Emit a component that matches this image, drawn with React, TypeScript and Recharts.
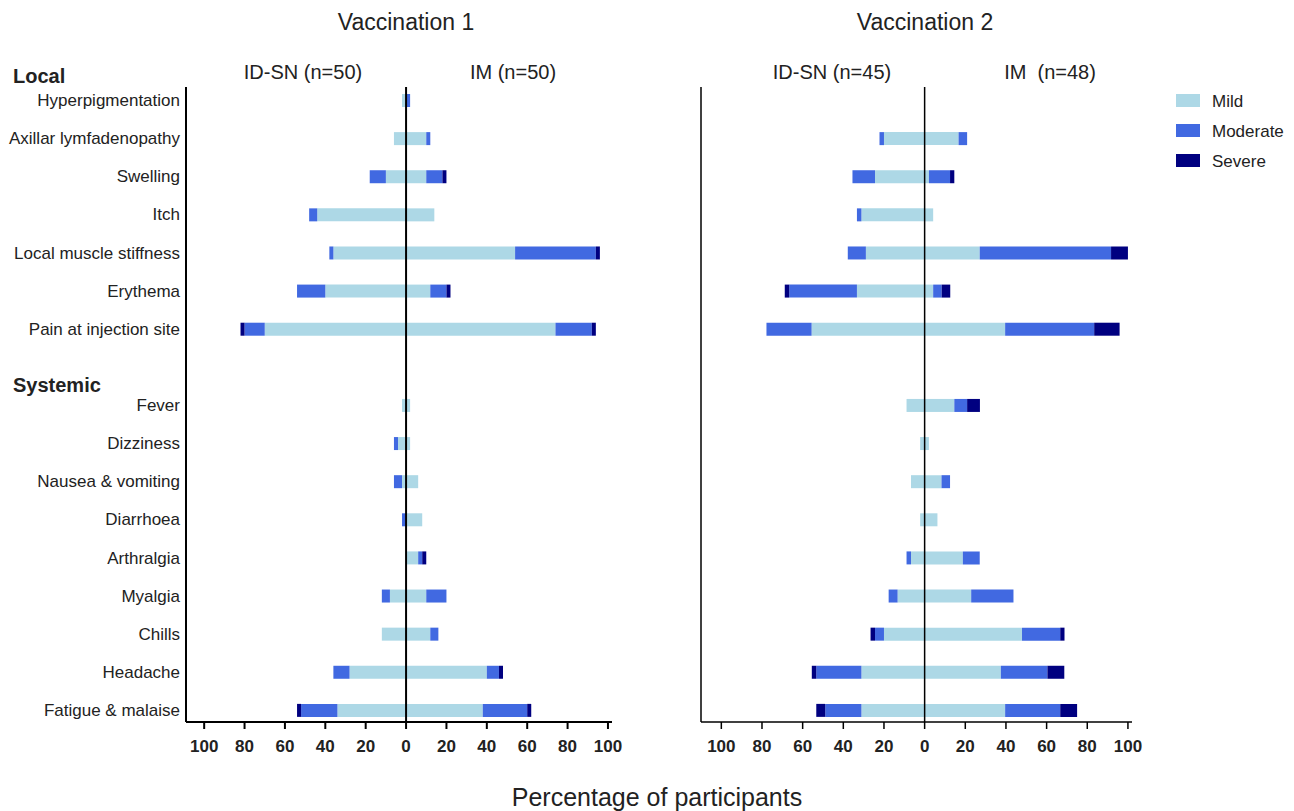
import React from "react";
import { BarChart, Bar, XAxis, YAxis, ReferenceLine } from "recharts";

// rows top to bottom, "" is the spacer between Local and Systemic
const categories = [
  "Hyperpigmentation",
  "Axillar lymfadenopathy",
  "Swelling",
  "Itch",
  "Local muscle stiffness",
  "Erythema",
  "Pain at injection site",
  "",
  "Fever",
  "Dizziness",
  "Nausea & vomiting",
  "Diarrhoea",
  "Arthralgia",
  "Myalgia",
  "Chills",
  "Headache",
  "Fatigue & malaise",
];

// Vaccination 1, % of participants
const v1IdsnMild = [2, 6, 10, 44, 36, 40, 70, 0, 2, 4, 2, 0, 0, 8, 12, 28, 34];
const v1IdsnModerate = [0, 0, 8, 4, 2, 14, 10, 0, 0, 2, 4, 2, 0, 4, 0, 8, 18];
const v1IdsnSevere = [0, 0, 0, 0, 0, 0, 2, 0, 0, 0, 0, 0, 0, 0, 0, 0, 2];
const v1ImMild = [0, 10, 10, 14, 54, 12, 74, 0, 2, 2, 6, 8, 6, 10, 12, 40, 38];
const v1ImModerate = [2, 2, 8, 0, 40, 8, 18, 0, 0, 0, 0, 0, 2, 10, 4, 6, 22];
const v1ImSevere = [0, 0, 2, 0, 2, 2, 2, 0, 0, 0, 0, 0, 2, 0, 0, 2, 2];

// Vaccination 2
const v2IdsnMild = [0, 20, 24.4, 31.1, 28.9, 33.3, 55.6, 0, 8.9, 2.2, 6.7, 2.2, 6.7, 13.3, 20, 31.1, 31.1];
const v2IdsnModerate = [0, 2.2, 11.1, 2.2, 8.9, 33.3, 22.2, 0, 0, 0, 0, 0, 2.2, 4.4, 4.4, 22.2, 17.8];
const v2IdsnSevere = [0, 0, 0, 0, 0, 2.2, 0, 0, 0, 0, 0, 0, 0, 0, 2.2, 2.2, 4.4];
const v2ImMild = [0, 16.7, 2.1, 4.2, 27.1, 4.2, 39.6, 0, 14.6, 2.1, 8.3, 6.3, 18.8, 22.9, 47.9, 37.5, 39.6];
const v2ImModerate = [0, 4.2, 10.4, 0, 64.6, 4.2, 43.8, 0, 6.3, 0, 4.2, 0, 8.3, 20.8, 18.8, 22.9, 27.1];
const v2ImSevere = [0, 0, 2.1, 0, 8.3, 4.2, 12.5, 0, 6.3, 0, 0, 0, 0, 0, 2.1, 8.3, 8.3];

const xTicks = [-100, -80, -60, -40, -20, 0, 20, 40, 60, 80, 100];
const severities = ["Mild", "Moderate", "Severe"];

const FONT = "'Liberation Sans', Arial, Helvetica, sans-serif";
const COLORS = ["#ADD8E6", "#4169E1", "#000080"];

const buildRows = (
  idMild: number[],
  idMod: number[],
  idSev: number[],
  imMild: number[],
  imMod: number[],
  imSev: number[]
) =>
  categories.map((name, i) => ({
    name,
    idMild: -idMild[i],
    idMod: -idMod[i],
    idSev: -idSev[i],
    imMild: imMild[i],
    imMod: imMod[i],
    imSev: imSev[i],
  }));

const v1Rows = buildRows(v1IdsnMild, v1IdsnModerate, v1IdsnSevere, v1ImMild, v1ImModerate, v1ImSevere);
const v2Rows = buildRows(v2IdsnMild, v2IdsnModerate, v2IdsnSevere, v2ImMild, v2ImModerate, v2ImSevere);

const seriesKeys = ["idMild", "idMod", "idSev", "imMild", "imMod", "imSev"];

type PanelProps = {
  data: any[];
  left: number;
  width: number;
  yWidth: number;
  marginRight: number;
  domain: [number, number];
  showLabels: boolean;
  lineWidth: number;
};

const Panel: React.FC<PanelProps> = ({ data, left, width, yWidth, marginRight, domain, showLabels, lineWidth }) => (
  <div style={{ position: "absolute", left, top: 0 }}>
    <BarChart
      width={width}
      height={811}
      data={data}
      layout="vertical"
      stackOffset="sign"
      barSize={13}
      margin={{ top: 87, right: marginRight, bottom: 49, left: 0 }}
    >
      <XAxis
        type="number"
        domain={domain}
        allowDataOverflow
        ticks={xTicks}
        tickFormatter={(v: number) => String(Math.abs(v))}
        height={40}
        tickSize={7}
        tickMargin={11}
        tickLine={{ stroke: "#000", strokeWidth: lineWidth }}
        axisLine={{ stroke: "#000", strokeWidth: lineWidth }}
        tick={{ fill: "#222", fontSize: 17, fontWeight: "bold", fontFamily: FONT }}
      />
      <YAxis
        type="category"
        dataKey="name"
        width={yWidth}
        padding={{ top: -6, bottom: -7 }}
        tickLine={false}
        tickSize={0}
        tickMargin={6}
        interval={0}
        tick={showLabels ? { fill: "#222", fontSize: 17, fontFamily: FONT } : false}
        axisLine={{ stroke: "#000", strokeWidth: lineWidth }}
      />
      {seriesKeys.map((k, i) => (
        <Bar key={k} dataKey={k} stackId="s" fill={COLORS[i % 3]} isAnimationActive={false} />
      ))}
      <ReferenceLine x={0} stroke="#000" strokeWidth={lineWidth} />
    </BarChart>
  </div>
);

const Text: React.FC<{ x: number; y: number; size: number; bold?: boolean; center?: boolean; children: React.ReactNode }> = ({
  x,
  y,
  size,
  bold,
  center,
  children,
}) => (
  <div
    style={{
      position: "absolute",
      left: x,
      top: y - size * 0.49,
      fontSize: size,
      lineHeight: 1,
      fontFamily: FONT,
      fontWeight: bold ? "bold" : "normal",
      color: "#222",
      whiteSpace: "pre",
      transform: center ? "translateX(-50%)" : undefined,
    }}
  >
    {children}
  </div>
);

export default function App() {
  return (
    <div style={{ position: "absolute", left: 0, top: 0, width: 1294, height: 811, background: "#fff" }}>
      <Panel data={v1Rows} left={0} width={640} yWidth={186} marginRight={28} domain={[-109, 102]} showLabels lineWidth={2} />
      <Panel data={v2Rows} left={650} width={560} yWidth={51} marginRight={78} domain={[-110, 102]} showLabels={false} lineWidth={1.5} />

      <Text x={406} y={22} size={23} center>Vaccination 1</Text>
      <Text x={925} y={22} size={23} center>Vaccination 2</Text>
      <Text x={303} y={72} size={20} center>ID-SN (n=50)</Text>
      <Text x={513} y={72} size={20} center>IM (n=50)</Text>
      <Text x={832} y={72} size={20} center>ID-SN (n=45)</Text>
      <Text x={1050} y={72} size={20} center>IM  (n=48)</Text>
      <Text x={13} y={76} size={20} bold>Local</Text>
      <Text x={13} y={385} size={20} bold>Systemic</Text>
      <Text x={657} y={797} size={25} center>Percentage of participants</Text>

      {severities.map((s, i) => (
        <div key={s}>
          <div style={{ position: "absolute", left: 1176, top: 94 + i * 30, width: 24, height: 13, background: COLORS[i] }} />
          <Text x={1212} y={101 + i * 30} size={17}>{s}</Text>
        </div>
      ))}
    </div>
  );
}
